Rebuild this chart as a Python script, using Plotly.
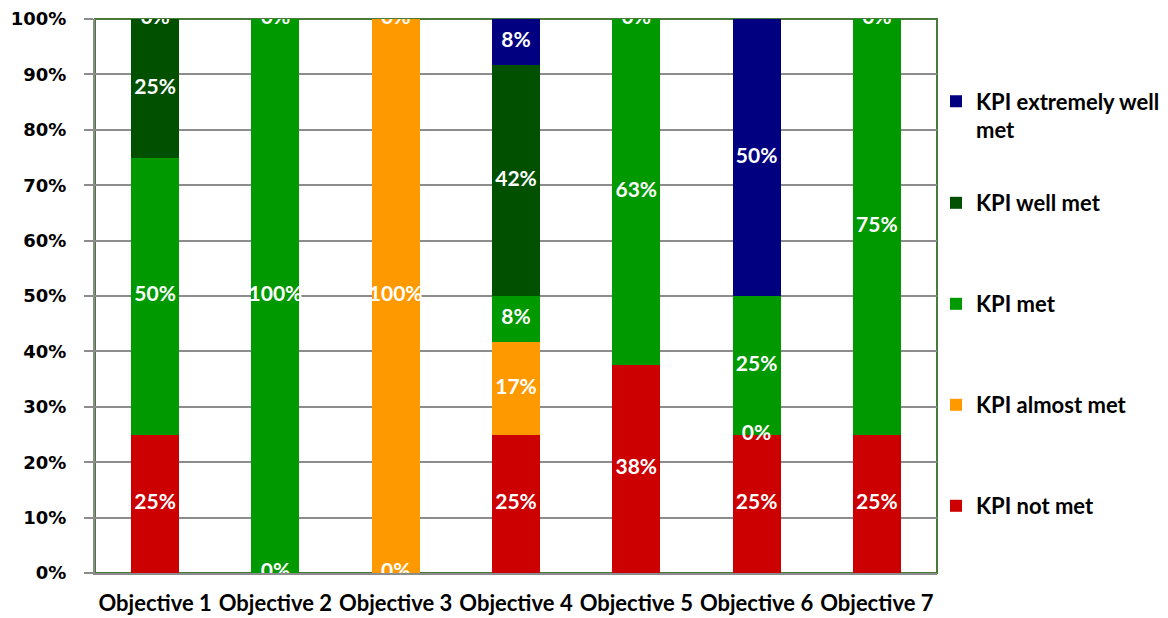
import math
import plotly.graph_objects as go

categories = ["Objective 1", "Objective 2", "Objective 3", "Objective 4",
              "Objective 5", "Objective 6", "Objective 7"]

# values in percent (None = no data point)
kpi_not_met = [25, 0, 0, 25, 37.5, 25, 25]
kpi_almost_met = [None, None, 100, 16.67, None, 0, None]
kpi_met = [50, 100, None, 8.33, 62.5, 25, 75]
kpi_well_met = [25, None, None, 41.67, None, None, None]
kpi_extremely_well_met = [0, 0, 0, 8.33, 0, 50, 0]

series_names = ["KPI not met", "KPI almost met", "KPI met", "KPI well met",
                "KPI extremely well met"]
legend_labels = ["KPI not met", "KPI almost met", "KPI met", "KPI well met",
                 "KPI extremely well<br>met"]
series_values = [kpi_not_met, kpi_almost_met, kpi_met, kpi_well_met,
                 kpi_extremely_well_met]
series_colors = ["#CC0000", "#FF9900", "#009900", "#005000", "#000080"]
y_ticks = [0, 10, 20, 30, 40, 50, 60, 70, 80, 90, 100]

LABEL_FONT = "Lato"

fig = go.Figure()

W, H = 1168, 618
ML, MR, MT, MB = 95, 231, 19, 45
pw, ph = W - ML - MR, H - MT - MB
legend_pix_y = [506, 405, 304, 203, 116]
legend_keys = ["legend5", "legend4", "legend3", "legend2", "legend"]

for i, (name, vals, col) in enumerate(zip(series_names, series_values, series_colors)):
    fig.add_trace(go.Bar(
        x=categories, y=vals,
        name=legend_labels[i], marker=dict(color=col, line=dict(width=0)),
        width=0.4, legend=legend_keys[i], hoverinfo="skip",
    ))

# data labels at segment centres, from the cumulative stack
lab_x, lab_y, lab_t = [], [], []
base = [0.0] * len(categories)
for vals in series_values:
    for j, v in enumerate(vals):
        if v is None:
            continue
        lab_x.append(categories[j])
        lab_y.append(base[j] + v / 2.0)
        lab_t.append(f"{int(math.floor(v + 0.5))}%")
        base[j] += v

fig.add_trace(go.Scatter(
    x=lab_x, y=lab_y, text=lab_t, mode="text", showlegend=False,
    textposition="middle center", cliponaxis=True, hoverinfo="skip",
    textfont=dict(family=LABEL_FONT, size=21, color="white", weight="bold"),
))

legend_common = dict(
    xref="paper", yref="paper", xanchor="left", yanchor="middle",
    bgcolor="rgba(0,0,0,0)", valign="top",
    font=dict(family=LABEL_FONT, size=22, color="black", weight="bold"),
    itemclick=False, itemdoubleclick=False,
)
legends = {}
for key, py in zip(legend_keys, legend_pix_y):
    legends[key] = dict(legend_common, x=(936 - ML) / pw, y=(H - MB - py) / ph)

fig.update_layout(
    width=W, height=H,
    margin=dict(l=ML, r=MR, t=MT, b=MB, pad=0, autoexpand=False),
    barmode="stack",
    plot_bgcolor="white", paper_bgcolor="white",
    showlegend=True,
    **legends,
    xaxis=dict(
        type="category", showgrid=False, ticks="", automargin=False,
        showline=True, linecolor="#8C8C8C", linewidth=2,
        tickfont=dict(family=LABEL_FONT, size=22, color="black", weight="bold"),
        ticklabelstandoff=10,
    ),
    yaxis=dict(
        range=[0, 100], tickvals=y_ticks, ticktext=[f"{t}%" for t in y_ticks],
        automargin=False,
        showgrid=True, gridcolor="#8C8C8C", gridwidth=2,
        showline=True, linecolor="#8C8C8C", linewidth=2,
        ticks="outside", ticklen=9, tickwidth=2, tickcolor="#8C8C8C",
        tickfont=dict(family="DejaVu Sans", size=18, color="black", weight="bold"),
        ticklabelstandoff=14, zeroline=False,
    ),
    shapes=[dict(type="rect", xref="x domain", yref="y domain",
                 x0=0, x1=1, y0=0, y1=1,
                 line=dict(color="#4A7A3A", width=2), layer="below")],
)

fig.write_html("out.html")
